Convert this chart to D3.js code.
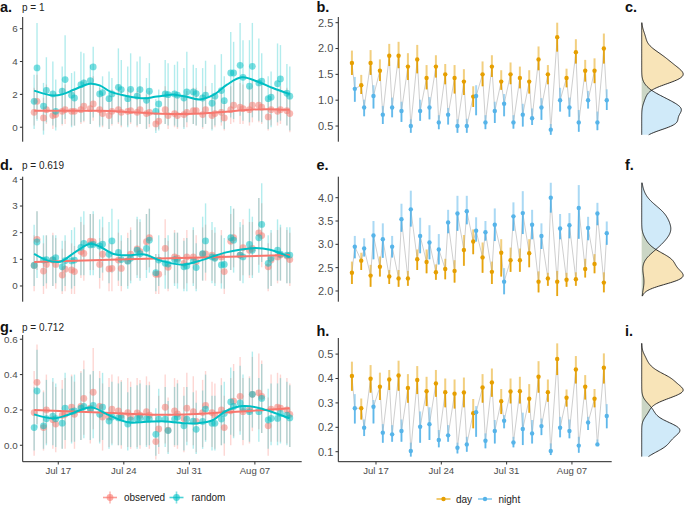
<!DOCTYPE html>
<html><head><meta charset="utf-8">
<script src="https://cdn.jsdelivr.net/npm/d3@7"></script>
<style>
body{margin:0;background:#fff}
svg{display:block}
text{font-family:"Liberation Sans",Arial,Helvetica,sans-serif}
</style>
</head><body>
<svg id="chart" width="685" height="505"></svg>
<script>
// ---------------- DATA ----------------
const xTickLabels = ["Jul 17","Jul 24","Jul 31","Aug 07"];
const xTickDays = [3,10,17,24]; // days after Jul 14

// Panel a
const aObs   = [0.91,1.58,0.57,1.07,0.71,0.77,0.97,1.07,0.97,0.97,1.07,1.28,1.13,1.42,1.07,0.83,0.71,0.97,1.07,0.91,0.97,1.01,0.91,1.07,0.83,0.91,0.20,0.37,1.07,0.71,0.83,0.71,0.77,0.91,1.01,1.01,0.77,1.07,0.71,0.83,0.91,0.57,1.07,1.34,1.22,1.13,1.07,1.34,1.34,1.22,0.63,1.07,0.97,1.07,1.01,0.83];
const aObsLo = [0.1,0.5,-0.2,0.2,-0.1,0.0,0.1,0.2,0.1,0.1,0.2,0.3,0.2,0.4,0.1,0.0,-0.1,0.1,0.2,0.0,0.1,0.2,0.0,0.2,-0.1,0.0,-0.2,-0.1,0.2,-0.1,0.0,-0.1,0.0,0.0,0.2,0.1,-0.1,0.2,-0.1,0.0,0.1,-0.2,0.2,0.3,0.2,0.2,0.1,0.3,0.3,0.2,-0.2,0.1,0.1,0.2,0.1,-0.3];
const aObsHi = [2.4,3.2,1.8,2.6,2.0,2.1,2.4,2.6,2.3,2.4,2.5,2.9,2.6,3.1,2.4,2.1,1.9,2.3,2.6,2.2,2.3,2.4,2.2,2.5,2.0,2.2,0.9,1.2,2.5,1.9,2.1,1.9,2.0,2.2,2.4,2.4,2.0,2.5,1.9,2.1,2.2,1.6,2.5,2.9,2.7,2.6,2.5,2.9,2.9,2.7,1.7,2.5,2.3,2.5,2.4,2.1];
const aRnd   = [1.58,3.61,1.28,2.25,2.03,0.97,2.19,2.90,1.95,1.78,2.59,2.70,2.84,3.67,2.03,2.11,1.74,2.03,2.43,2.29,1.74,2.31,1.90,2.29,1.64,2.19,0.97,1.42,2.03,1.98,2.03,1.95,1.78,2.15,2.15,2.05,1.78,1.95,1.46,1.89,2.23,1.62,3.30,3.30,3.77,3.04,2.50,3.71,2.70,2.80,1.74,1.83,2.65,2.94,2.07,1.89];
const aRndLo = [-0.1,0.4,-0.45,0.3,0.1,-0.2,0.2,0.5,0.0,0.1,0.3,0.4,0.2,0.6,0.0,0.1,-0.1,0.2,0.3,0.1,0.0,0.3,0.1,0.2,-0.1,0.2,-0.35,-0.2,0.2,0.1,0.1,0.0,-0.1,0.3,0.2,0.1,0.0,0.2,-0.2,0.1,0.3,-0.1,0.6,0.5,0.7,0.4,0.3,0.6,0.4,0.3,-0.1,0.0,0.3,0.4,0.1,-0.2];
const aRndHi = [3.2,6.35,2.7,4.26,4.0,2.9,3.7,5.6,3.3,3.4,4.6,4.5,3.8,4.9,2.6,3.1,3.4,3.0,4.8,4.1,3.7,4.5,4.0,4.3,3.0,3.9,1.7,2.3,4.1,3.9,3.8,4.0,3.6,4.6,3.8,3.6,3.6,4.05,2.7,3.8,4.45,3.1,5.8,5.2,6.35,5.3,5.3,6.35,5.4,4.5,3.1,3.4,5.1,5.0,3.85,3.7];
const aObsSmooth = [[0,1.01],[4,1.0],[7,1.0],[10,0.93],[13.5,0.82],[16,0.80],[18,0.83],[20.5,0.95],[23,1.07],[25,1.1],[27.3,1.06]];
const aRndSmooth = [[0,2.23],[2,1.93],[3,2.0],[4.3,2.3],[6,2.65],[7,2.55],[8.2,2.15],[10,1.89],[11.8,1.76],[12.9,1.85],[14,1.93],[14.8,2.0],[16.3,1.85],[17.7,1.69],[19.1,1.95],[20.6,2.59],[22.2,3.04],[24.1,2.72],[25.5,2.39],[27.3,2.02]];
const aTicks = [0,2,4,6], aTickLabels = ["0","2","4","6"];

// Panel d
const dObs   = [0.77,1.75,0.56,0.81,0.97,0.81,0.41,0.63,0.60,0.54,1.29,1.22,1.68,1.66,0.81,1.19,0.64,0.66,0.97,0.66,0.95,1.19,1.39,1.29,1.66,1.81,0.44,0.44,1.41,0.70,1.09,1.04,0.85,1.09,1.09,0.91,1.19,1.20,1.16,1.07,1.09,0.54,1.68,1.81,1.16,1.44,1.34,1.41,1.99,1.89,0.72,0.97,1.09,1.16,1.12,0.99];
const dObsLo = [-0.2,0.6,-0.3,-0.1,0.0,-0.1,-0.3,-0.2,-0.3,-0.3,0.3,0.2,0.6,0.6,-0.1,0.2,-0.2,-0.2,0.0,-0.2,0.0,0.2,0.4,0.3,0.6,0.7,-0.3,-0.3,0.4,-0.2,0.1,0.1,-0.1,0.1,0.1,-0.1,0.2,0.2,0.2,0.1,0.1,-0.3,0.6,0.7,0.2,0.4,0.3,0.4,0.8,0.7,-0.2,0.0,0.1,0.2,0.1,0.0];
const dObsHi = [1.9,2.8,1.6,1.9,2.0,1.8,1.4,1.7,1.6,1.5,2.4,2.3,2.7,2.7,1.8,2.2,1.6,1.6,2.0,1.7,2.0,2.2,2.5,2.4,2.7,2.9,1.2,1.2,2.5,1.7,2.1,2.0,1.8,2.1,2.1,1.9,2.2,2.3,2.1,2.0,2.1,1.3,2.7,2.9,2.2,2.5,2.4,2.4,3.3,3.1,1.6,2.0,2.1,2.2,2.1,2.0];
const dRnd   = [0.77,1.65,0.97,0.99,0.99,1.06,0.72,0.95,0.94,0.97,1.45,1.60,1.54,1.56,1.50,1.57,1.19,1.69,1.26,0.99,0.93,1.04,1.34,1.21,1.41,1.72,0.50,0.97,0.85,0.82,0.99,0.97,0.72,0.75,0.95,0.69,1.21,1.69,1.09,1.04,0.79,0.81,1.81,1.72,1.16,1.09,1.56,1.34,1.81,2.31,0.85,1.04,1.34,1.19,1.16,1.16];
const dRndLo = [0.0,0.3,0.0,0.1,0.0,0.1,-0.2,0.0,-0.1,0.0,0.4,0.4,0.4,0.4,0.3,0.5,0.1,0.5,0.2,0.0,-0.1,0.1,0.3,0.2,0.3,0.5,-0.2,0.0,-0.1,-0.1,0.0,-0.1,-0.2,-0.2,0.0,-0.2,0.2,0.5,0.1,0.0,-0.1,-0.1,0.6,0.5,0.2,0.1,0.4,0.3,0.5,0.9,-0.1,0.0,0.2,0.2,0.1,0.1];
const dRndHi = [2.3,2.8,1.9,1.9,1.9,1.9,1.7,1.9,2.1,2.2,2.6,2.8,2.7,2.8,2.5,2.6,2.4,2.9,2.5,1.9,1.8,2.1,2.6,2.5,2.7,2.9,1.2,1.9,1.8,1.9,2.0,2.0,1.7,1.8,2.2,1.6,2.6,3.1,2.4,2.2,1.9,1.8,3.0,2.9,2.4,2.3,2.9,2.6,3.3,3.85,1.9,2.1,2.5,2.3,2.2,2.2];
const dObsSmooth = [[0,0.90],[9,0.99],[18,1.07],[27.3,1.16]];
const dRndSmooth = [[0,1.2],[1.5,0.95],[2.8,0.91],[4.5,1.3],[6,1.58],[7,1.48],[8.5,1.2],[10,1.15],[11.8,1.18],[13.5,0.95],[15.9,0.8],[18,0.98],[20.5,1.26],[23.4,1.42],[25.2,1.36],[27.3,1.08]];
const dTicks = [0,1,2,3,4], dTickLabels = ["0","1","2","3","4"];

// Panel g
const gObs   = [0.185,0.356,0.10,0.20,0.145,0.12,0.17,0.175,0.215,0.175,0.22,0.265,0.21,0.30,0.22,0.16,0.16,0.205,0.195,0.17,0.185,0.16,0.183,0.17,0.19,0.17,0.021,0.092,0.215,0.085,0.195,0.177,0.15,0.21,0.19,0.135,0.185,0.225,0.185,0.17,0.2,0.1,0.195,0.25,0.277,0.19,0.2,0.288,0.297,0.277,0.11,0.205,0.215,0.21,0.2,0.175];
const gObsLo = [-0.06,0.12,-0.03,0.01,-0.02,-0.04,-0.02,-0.02,0.02,-0.02,0.03,0.06,0.01,0.09,0.02,-0.03,-0.01,0.01,0.00,-0.02,-0.01,-0.02,-0.01,-0.02,0.00,-0.02,-0.08,-0.05,0.01,-0.04,-0.01,-0.02,-0.04,0.02,0.00,-0.04,-0.01,0.03,-0.01,-0.02,0.00,-0.06,0.00,0.05,0.08,0.00,0.01,0.08,0.09,0.07,-0.06,0.02,0.02,0.02,0.01,-0.01];
const gObsHi = [0.42,0.57,0.31,0.40,0.36,0.33,0.37,0.38,0.40,0.36,0.42,0.48,0.40,0.55,0.42,0.35,0.38,0.40,0.39,0.37,0.38,0.36,0.38,0.37,0.39,0.36,0.18,0.28,0.40,0.27,0.38,0.37,0.33,0.41,0.39,0.31,0.37,0.42,0.36,0.35,0.38,0.28,0.38,0.46,0.50,0.38,0.39,0.50,0.52,0.48,0.27,0.40,0.41,0.40,0.38,0.35];
const gRnd   = [0.10,0.307,0.11,0.15,0.165,0.15,0.125,0.21,0.19,0.195,0.21,0.22,0.205,0.225,0.175,0.215,0.137,0.16,0.155,0.155,0.12,0.143,0.15,0.155,0.15,0.148,0.062,0.148,0.148,0.083,0.148,0.16,0.11,0.148,0.137,0.09,0.135,0.205,0.124,0.124,0.148,0.18,0.245,0.22,0.24,0.21,0.19,0.288,0.19,0.265,0.143,0.152,0.152,0.18,0.17,0.155];
const gRndLo = [-0.03,0.10,-0.02,0.00,0.00,-0.01,-0.02,0.03,0.01,0.02,0.03,0.04,0.03,0.04,0.01,0.03,-0.02,0.00,0.00,0.00,-0.03,-0.01,-0.02,0.00,-0.01,0.00,-0.06,-0.01,-0.01,-0.05,0.00,0.00,-0.03,0.00,-0.02,-0.05,-0.02,0.02,-0.03,-0.03,0.00,0.01,0.06,0.04,0.06,0.03,0.02,0.10,0.02,0.07,-0.02,0.00,0.00,0.01,0.00,-0.01];
const gRndHi = [0.33,0.54,0.30,0.37,0.38,0.35,0.32,0.41,0.39,0.40,0.41,0.43,0.40,0.42,0.38,0.41,0.33,0.36,0.35,0.36,0.30,0.33,0.34,0.35,0.34,0.34,0.21,0.32,0.33,0.25,0.33,0.35,0.28,0.33,0.30,0.24,0.31,0.40,0.28,0.28,0.34,0.36,0.44,0.42,0.45,0.40,0.38,0.53,0.38,0.46,0.32,0.35,0.35,0.38,0.36,0.34];
const gObsSmooth = [[0,0.2],[7,0.185],[14,0.172],[20,0.185],[27.3,0.21]];
const gRndSmooth = [[0,0.175],[2,0.152],[3.5,0.17],[5.5,0.21],[6.3,0.213],[7.8,0.175],[10,0.13],[12,0.133],[14,0.135],[16.3,0.124],[17.5,0.125],[19,0.14],[20.5,0.194],[22.3,0.222],[24.1,0.21],[27.3,0.152]];
const gTicks = [0,0.2,0.4,0.6], gTickLabels = ["0.0","0.2","0.4","0.6"];

// Panel b
const bDay     = [1.72,1.29,1.72,1.57,1.86,1.86,1.65,1.79,1.43,1.65,1.50,1.43,1.36,1.07,1.50,1.65,1.36,1.50,1.43,1.36,1.79,1.50,2.22,1.43,1.93,1.57,1.57,2.00];
const bDayLo   = [1.49,1.12,1.49,1.37,1.66,1.62,1.39,1.52,1.21,1.44,1.31,1.13,1.10,0.87,1.27,1.45,1.20,1.31,1.23,1.13,1.58,1.31,1.94,1.25,1.71,1.36,1.33,1.71];
const bDayHi   = [1.96,1.49,1.97,1.79,2.09,2.13,1.91,2.07,1.68,1.87,1.70,1.68,1.60,1.27,1.75,1.87,1.58,1.73,1.65,1.58,2.04,1.68,2.50,1.61,2.18,1.78,1.81,2.29];
const bNight   = [1.22,0.86,1.08,0.72,0.86,0.79,0.50,0.79,0.86,0.57,0.72,0.50,0.50,1.08,0.57,0.79,0.93,0.57,0.72,0.65,0.86,0.43,1.00,0.86,0.57,1.00,0.57,1.00];
const bNightLo = [0.97,0.69,0.84,0.54,0.67,0.58,0.37,0.60,0.63,0.44,0.53,0.37,0.37,0.71,0.44,0.56,0.69,0.45,0.49,0.52,0.62,0.33,0.78,0.68,0.39,0.84,0.42,0.81];
const bNightHi = [1.45,1.01,1.29,0.89,1.05,0.97,0.63,1.01,1.06,0.71,0.85,0.63,0.64,1.29,0.71,0.97,1.12,0.71,0.93,0.84,1.04,0.54,1.24,1.05,0.81,1.18,0.78,1.21];
const bTicks = [0.5,1,1.5,2,2.5], bTickLabels = ["0.5","1.0","1.5","2.0","2.5"];

// Panel e
const eDay     = [2.39,2.65,2.33,2.52,2.31,2.27,2.27,2.68,2.62,2.40,2.47,2.43,2.88,3.06,2.72,2.41,2.82,2.66,2.66,2.81,2.20,2.27,2.20,2.24,2.25,2.47,2.58,2.18];
const eDayLo   = [2.15,2.45,2.09,2.31,2.15,2.09,2.11,2.45,2.38,2.24,2.25,2.18,2.54,2.79,2.39,2.15,2.31,2.41,2.41,2.51,1.97,2.11,1.89,2.09,2.11,2.29,2.38,1.97];
const eDayHi   = [2.63,2.82,2.56,2.74,2.45,2.45,2.43,2.89,2.89,2.57,2.69,2.66,3.20,3.32,3.04,2.63,3.11,2.93,2.91,3.11,2.42,2.39,2.43,2.39,2.40,2.69,2.79,2.40];
const eNight   = [2.95,2.91,3.19,3.11,2.95,3.54,3.75,3.18,3.04,2.89,3.47,3.66,3.71,3.29,3.26,3.42,2.20,3.60,3.67,3.42,3.18,4.00,3.34,3.41,3.78,3.35,3.66,3.24];
const eNightLo = [2.70,2.74,2.68,2.71,2.72,3.27,3.38,2.81,2.68,2.57,3.24,3.29,3.43,3.06,3.08,3.07,1.93,3.29,3.22,3.11,2.90,3.68,3.11,3.13,3.12,3.09,3.41,2.99];
const eNightHi = [3.18,3.13,3.50,3.45,3.18,3.87,4.15,3.57,3.41,3.22,3.74,4.04,4.04,3.58,3.50,3.77,2.49,3.90,4.14,3.74,3.45,4.32,3.65,3.67,4.27,3.59,3.89,3.49];
const eTicks = [2,2.5,3,3.5,4], eTickLabels = ["2.0","2.5","3.0","3.5","4.0"];

// Panel h
const hDay     = [0.41,0.278,0.399,0.366,0.396,0.412,0.361,0.394,0.348,0.38,0.344,0.338,0.343,0.258,0.363,0.384,0.307,0.347,0.348,0.317,0.407,0.344,0.48,0.321,0.437,0.366,0.317,0.444];
const hDayLo   = [0.35,0.232,0.342,0.312,0.353,0.35,0.301,0.336,0.287,0.325,0.282,0.277,0.282,0.196,0.301,0.325,0.254,0.298,0.298,0.26,0.342,0.305,0.414,0.285,0.38,0.314,0.282,0.38];
const hDayHi   = [0.469,0.318,0.455,0.424,0.435,0.473,0.418,0.451,0.407,0.435,0.40,0.396,0.404,0.316,0.418,0.441,0.357,0.40,0.407,0.377,0.471,0.396,0.544,0.355,0.492,0.414,0.357,0.503];
const hNight   = [0.278,0.198,0.284,0.178,0.171,0.185,0.103,0.202,0.213,0.148,0.167,0.116,0.13,0.262,0.145,0.185,0.227,0.138,0.193,0.175,0.205,0.103,0.198,0.185,0.125,0.22,0.13,0.246];
const hNightLo = [0.216,0.164,0.216,0.137,0.141,0.141,0.08,0.137,0.148,0.118,0.141,0.093,0.10,0.161,0.114,0.134,0.196,0.118,0.127,0.134,0.168,0.086,0.159,0.155,0.096,0.189,0.123,0.196];
const hNightHi = [0.336,0.232,0.312,0.213,0.209,0.232,0.137,0.265,0.282,0.189,0.209,0.137,0.161,0.287,0.175,0.23,0.25,0.161,0.26,0.23,0.236,0.134,0.243,0.232,0.161,0.243,0.15,0.295];
const hTicks = [0.1,0.2,0.3,0.4,0.5], hTickLabels = ["0.1","0.2","0.3","0.4","0.5"];

const pValues = ["p = 1","p = 0.619","p = 0.712"];
const legendLeft = ["observed","random"];
const legendMid = ["day","night"];

// ---------------- STYLE / DRAWING ----------------
const C = {obs:"#F8766D", rnd:"#00BFC4", day:"#E69F00", night:"#56B4E9"};
const svg = d3.select("#chart");
const BASE = Date.UTC(2021,6,14);
const T = d => new Date(BASE + d*864e5);
const DAY_OFF = 0.42, NIGHT_SHIFT = 0.31;
const slotTime = k => T(DAY_OFF + Math.floor(k/2) + (k%2)*NIGHT_SHIFT);

const xL = d3.scaleUtc().domain([T(-0.8), T(29.0)]).range([22.7, 301.7]);
const xM = d3.scaleUtc().domain([T(-1.04), T(28.26)]).range([338.3, 611.7]);
const RX = 641.7, RW = 41.5;

const rows = [
  {L:{letter:"a.", p:pValues[0], obs:aObs, obsLo:aObsLo, obsHi:aObsHi, rnd:aRnd, rndLo:aRndLo, rndHi:aRndHi, obsSm:aObsSmooth, rndSm:aRndSmooth, dom:[-0.88,6.71], ticks:aTicks, labels:aTickLabels, y:[17,141.7], ly:12},
   M:{letter:"b.", day:bDay, dayLo:bDayLo, dayHi:bDayHi, night:bNight, nightLo:bNightLo, nightHi:bNightHi, dom:[0.197,2.61], ticks:bTicks, labels:bTickLabels, y:[17,141.7], ly:12},
   R:{letter:"c.", ly:12}},
  {L:{letter:"d.", p:pValues[1], obs:dObs, obsLo:dObsLo, obsHi:dObsHi, rnd:dRnd, rndLo:dRndLo, rndHi:dRndHi, obsSm:dObsSmooth, rndSm:dRndSmooth, dom:[-0.59,4.10], ticks:dTicks, labels:dTickLabels, y:[176.7,301.7], ly:170},
   M:{letter:"e.", day:eDay, dayLo:eDayLo, dayHi:eDayHi, night:eNight, nightLo:eNightLo, nightHi:eNightHi, dom:[1.77,4.45], ticks:eTicks, labels:eTickLabels, y:[176.7,301.7], ly:170},
   R:{letter:"f.", ly:170}},
  {L:{letter:"g.", p:pValues[2], obs:gObs, obsLo:gObsLo, obsHi:gObsHi, rnd:gRnd, rndLo:gRndLo, rndHi:gRndHi, obsSm:gObsSmooth, rndSm:gRndSmooth, dom:[-0.093,0.624], ticks:gTicks, labels:gTickLabels, y:[335,461.7], ly:331.5},
   M:{letter:"h.", day:hDay, dayLo:hDayLo, dayHi:hDayHi, night:hNight, nightLo:hNightLo, nightHi:hNightHi, dom:[0.059,0.566], ticks:hTicks, labels:hTickLabels, y:[338,461.7], ly:336},
   R:{letter:"i.", ly:336}}
];

function yAxis(g, y, x0, ticks, labels, y0, y1, fs) {
  g.append("line").attr("x1",x0).attr("x2",x0).attr("y1",y0).attr("y2",y1).attr("stroke","#222").attr("stroke-width",1);
  ticks.forEach((t,i)=>{
    g.append("line").attr("x1",x0-2.8).attr("x2",x0).attr("y1",y(t)).attr("y2",y(t)).attr("stroke","#333").attr("stroke-width",1);
    g.append("text").attr("x",x0-5).attr("y",y(t)).attr("dy","0.35em").attr("text-anchor","end")
      .attr("font-size",fs).attr("fill","#4d4d4d").text(labels[i]);
  });
}
function xAxis(g, x, yb, x0, x1) {
  g.append("line").attr("x1",x0).attr("x2",x1).attr("y1",yb).attr("y2",yb).attr("stroke","#222").attr("stroke-width",1);
  xTickDays.forEach((d,i)=>{
    const xx = x(T(d));
    g.append("line").attr("x1",xx).attr("x2",xx).attr("y1",yb).attr("y2",yb+2.8).attr("stroke","#333");
    g.append("text").attr("x",xx).attr("y",yb+12).attr("text-anchor","middle").attr("font-size",9.6).attr("fill","#4d4d4d").text(xTickLabels[i]);
  });
}
function letter(x, y, s) {
  svg.append("text").attr("x",x).attr("y",y).attr("font-size",14.5).attr("font-weight","bold").attr("fill","#111").text(s);
}

const gauss = u => Math.exp(-0.5*u*u)/Math.sqrt(2*Math.PI);
function bwNrd0(v){
  const s = v.slice().sort(d3.ascending);
  const sd = d3.deviation(s), iqr = d3.quantile(s,0.75)-d3.quantile(s,0.25);
  return 0.9*Math.min(sd, iqr/1.34)*Math.pow(s.length,-0.2);
}

rows.forEach((row, ri) => {
  const last = ri === rows.length-1;
  // ---------- LEFT ----------
  const L = row.L;
  const gL = svg.append("g");
  const yl = d3.scaleLinear().domain(L.dom).range([L.y[1], L.y[0]]);
  letter(0, L.ly, L.letter);
  svg.append("text").attr("x",22).attr("y",L.ly-1).attr("font-size",10).attr("fill","#222").text(L.p);
  yAxis(gL, yl, 22.7, L.ticks, L.labels, L.y[0], L.y[1], 9.8);
  if (last) xAxis(gL, xL, L.y[1], 22.7, 301.7);
  const series = [
    {v:L.obs, lo:L.obsLo, hi:L.obsHi, c:C.obs, sm:L.obsSm},
    {v:L.rnd, lo:L.rndLo, hi:L.rndHi, c:C.rnd, sm:L.rndSm}
  ];
  series.forEach(s => {
    gL.append("g").selectAll("line").data(s.v).join("line")
      .attr("x1",(d,k)=>xL(slotTime(k))).attr("x2",(d,k)=>xL(slotTime(k)))
      .attr("y1",(d,k)=>yl(s.lo[k])).attr("y2",(d,k)=>yl(s.hi[k]))
      .attr("stroke",s.c).attr("stroke-opacity",0.3).attr("stroke-width",1.4);
  });
  series.forEach(s => {
    gL.append("g").selectAll("circle").data(s.v).join("circle")
      .attr("cx",(d,k)=>xL(slotTime(k))).attr("cy",d=>yl(d)).attr("r",3.4)
      .attr("fill",s.c).attr("fill-opacity",0.52);
  });
  const sl = d3.line().x(d=>xL(T(DAY_OFF+d[0]))).y(d=>yl(d[1])).curve(d3.curveCatmullRom.alpha(0.5));
  series.forEach(s => {
    gL.append("path").attr("d", sl(s.sm)).attr("fill","none").attr("stroke",s.c).attr("stroke-width",2);
  });

  // ---------- MIDDLE ----------
  const M = row.M;
  const gM = svg.append("g");
  const ym = d3.scaleLinear().domain(M.dom).range([M.y[1], M.y[0]]);
  letter(316.5, M.ly, M.letter);
  yAxis(gM, ym, 338.3, M.ticks, M.labels, M.y[0], M.y[1], 11);
  if (last) xAxis(gM, xM, M.y[1], 338.3, 611.7);
  const seq = [];
  M.day.forEach((v,i)=>{ seq.push([T(DAY_OFF+i), v]); seq.push([T(DAY_OFF+i+NIGHT_SHIFT), M.night[i]]); });
  gM.append("path").attr("d", d3.line().x(d=>xM(d[0])).y(d=>ym(d[1]))(seq))
    .attr("fill","none").attr("stroke","#cfcfcf").attr("stroke-width",1);
  const ms = [
    {v:M.day, lo:M.dayLo, hi:M.dayHi, c:C.day, sh:0},
    {v:M.night, lo:M.nightLo, hi:M.nightHi, c:C.night, sh:NIGHT_SHIFT}
  ];
  ms.forEach(s => {
    const X = i => xM(T(DAY_OFF+i+s.sh));
    gM.append("g").selectAll("line").data(s.v).join("line")
      .attr("x1",(d,i)=>X(i)).attr("x2",(d,i)=>X(i))
      .attr("y1",(d,i)=>ym(s.lo[i])).attr("y2",(d,i)=>ym(s.hi[i]))
      .attr("stroke",s.c).attr("stroke-opacity",0.5).attr("stroke-width",2);
    gM.append("g").selectAll("line").data(s.v).join("line")
      .attr("x1",(d,i)=>X(i)).attr("x2",(d,i)=>X(i))
      .attr("y1",(d,i)=>ym(d)).attr("y2",(d,i)=>ym(s.lo[i]))
      .attr("stroke",s.c).attr("stroke-opacity",0.9).attr("stroke-width",1.5);
    gM.append("g").selectAll("circle").data(s.v).join("circle")
      .attr("cx",(d,i)=>X(i)).attr("cy",d=>ym(d)).attr("r",2.2).attr("fill",s.c);
  });

  // ---------- RIGHT (densities) ----------
  const R = row.R;
  letter(625, R.ly, R.letter);
  const all = [...M.dayLo, ...M.dayHi, ...M.nightLo, ...M.nightHi];
  const lo = d3.min(all), hi = d3.max(all);
  const grid = d3.range(0,161).map(i=>lo+(hi-lo)*i/160);
  const groups = [{v:M.day, c:C.day},{v:M.night, c:C.night}];
  const dens = groups.map(gp => {
    const bw = bwNrd0(gp.v)*1.15;
    return grid.map(y => [y, d3.mean(gp.v, u=>gauss((y-u)/bw))/bw]);
  });
  const mx = d3.max(dens.flat(), d=>d[1]);
  const wx = d3.scaleLinear().domain([0,mx]).range([RX, RX+RW]);
  const gR = svg.append("g");
  dens.forEach((dd,j)=>{
    gR.append("path").attr("d", d3.area().y(d=>ym(d[0])).x0(RX).x1(d=>wx(d[1])).curve(d3.curveBasis)(dd))
      .attr("fill", groups[j].c).attr("fill-opacity",0.28);
  });
  dens.forEach(dd=>{
    gR.append("path").attr("d", d3.line().y(d=>ym(d[0])).x(d=>wx(d[1])).curve(d3.curveBasis)(dd))
      .attr("fill","none").attr("stroke","#1a1a1a").attr("stroke-width",0.9);
  });
});

// ---------- LEGENDS ----------
function legendKey(x, y, c, cross, r) {
  svg.append("line").attr("x1",x-7).attr("x2",x+7).attr("y1",y).attr("y2",y).attr("stroke",c).attr("stroke-opacity",0.7).attr("stroke-width",1.6);
  if (cross) svg.append("line").attr("x1",x).attr("x2",x).attr("y1",y-6).attr("y2",y+6).attr("stroke",c).attr("stroke-opacity",0.5).attr("stroke-width",1.6);
  svg.append("circle").attr("cx",x).attr("cy",y).attr("r",r).attr("fill",c).attr("fill-opacity",cross?0.6:1);
}
const LY = 497.5;
legendKey(110, LY, C.obs, true, 3.4);
svg.append("text").attr("x",124).attr("y",LY).attr("dy","0.35em").attr("font-size",10).attr("fill","#222").text(legendLeft[0]);
legendKey(176.5, LY, C.rnd, true, 3.4);
svg.append("text").attr("x",191.5).attr("y",LY).attr("dy","0.35em").attr("font-size",10).attr("fill","#222").text(legendLeft[1]);
const MY = 499;
legendKey(443.5, MY, C.day, false, 2.2);
svg.append("text").attr("x",456).attr("y",MY).attr("dy","0.35em").attr("font-size",10).attr("fill","#222").text(legendMid[0]);
legendKey(485, MY, C.night, false, 2.2);
svg.append("text").attr("x",498.5).attr("y",MY).attr("dy","0.35em").attr("font-size",10).attr("fill","#222").text(legendMid[1]);
</script>
</body></html>
